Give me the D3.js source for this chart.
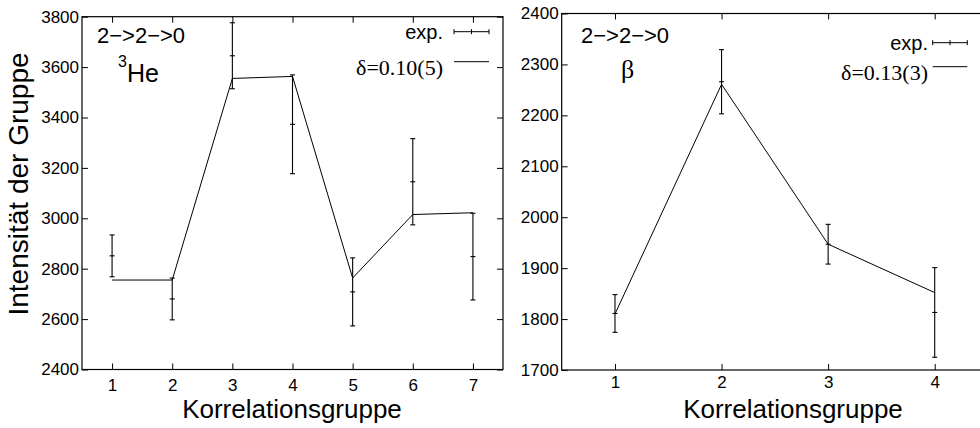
<!DOCTYPE html>
<html>
<head>
<meta charset="utf-8">
<script src="https://cdn.jsdelivr.net/npm/d3@7"></script>
<style>
  html, body { margin: 0; padding: 0; background: #fff; }
  svg { display: block; }
  text { fill: #000; }
</style>
</head>
<body>
<svg id="chart" width="980" height="428"></svg>
<script>
// ---- data ----
const groupsL = [1, 2, 3, 4, 5, 6, 7];
const expL    = [2851, 2680, 3645, 3373, 2708, 3145, 2848];
const errL    = [83, 83, 131, 196, 135, 171, 172];
const fitL    = [2755, 2755, 3555, 3563, 2763, 3015, 3022];
const yTicksL = [2400, 2600, 2800, 3000, 3200, 3400, 3600, 3800];

const groupsR = [1, 2, 3, 4];
const expR    = [1811, 2266, 1947, 1813];
const errR    = [37, 63, 39, 88];
const fitR    = [1810, 2261, 1947, 1852];
const yTicksR = [1700, 1800, 1900, 2000, 2100, 2200, 2300, 2400];

const xTitle = "Korrelationsgruppe";
const yTitle = "Intensität der Gruppe";
const transition = "2−>2−>0";
const legendExp = "exp.";
const legendFitL = "δ=0.10(5)";
const legendFitR = "δ=0.13(3)";

const SANS = "'Liberation Sans', Arial, Helvetica, sans-serif";
const SERIF = "'Liberation Serif', 'Times New Roman', serif";

const svg = d3.select("#chart");

function panel(opt) {
  const { groups, exp, err, fit, yTicks, xDomain, yDomain, x0, x1, y0, y1, xPad } = opt;
  const x = d3.scaleLinear().domain(xDomain).range([x0, x1]);
  const y = d3.scaleLinear().domain(yDomain).range([y1, y0]);
  const g = svg.append("g");
  const fontTick = "17px";

  g.append("rect")
    .attr("x", x0).attr("y", y0)
    .attr("width", x1 - x0).attr("height", y1 - y0)
    .attr("fill", "none").attr("stroke", "#000").attr("stroke-width", 1.2);

  const axL = d3.axisLeft(y).tickValues(yTicks).tickSize(-6).tickPadding(3).tickFormat(d3.format("d"));
  const axR = d3.axisRight(y).tickValues(yTicks).tickSize(-6).tickFormat("");
  const axB = d3.axisBottom(x).tickValues(groups).tickSize(-6).tickPadding(xPad).tickFormat(d3.format("d"));
  const axT = d3.axisTop(x).tickValues(groups).tickSize(-6).tickFormat("");

  function style(sel) {
    sel.select(".domain").remove();
    sel.selectAll("line").attr("stroke", "#000").attr("stroke-width", 1);
    sel.selectAll("text").attr("font-family", SANS).attr("font-size", fontTick).attr("fill", "#000");
  }
  g.append("g").attr("transform", `translate(${x0},0)`).call(axL).call(style);
  g.append("g").attr("transform", `translate(${x1},0)`).call(axR).call(style);
  g.append("g").attr("transform", `translate(0,${y1})`).call(axB).call(style);
  g.append("g").attr("transform", `translate(0,${y0})`).call(axT).call(style);

  const line = d3.line().x((d, i) => x(groups[i])).y(d => y(d));
  g.append("path").datum(fit).attr("d", line)
    .attr("fill", "none").attr("stroke", "#000").attr("stroke-width", 1);

  const eb = g.append("g").attr("stroke", "#000").attr("stroke-width", 1.1);
  groups.forEach((gr, i) => {
    const cx = x(gr);
    const top = y(exp[i] + err[i]), bot = y(exp[i] - err[i]), c = y(exp[i]);
    eb.append("line").attr("x1", cx).attr("x2", cx).attr("y1", top).attr("y2", bot);
    eb.append("line").attr("x1", cx - 2.5).attr("x2", cx + 2.5).attr("y1", top).attr("y2", top);
    eb.append("line").attr("x1", cx - 2.5).attr("x2", cx + 2.5).attr("y1", bot).attr("y2", bot);
    eb.append("line").attr("x1", cx - 2.5).attr("x2", cx + 2.5).attr("y1", c).attr("y2", c);
  });
  return { x, y, g };
}

panel({ groups: groupsL, exp: expL, err: errL, fit: fitL, yTicks: yTicksL,
  xDomain: [0.5, 7.5], yDomain: [2400, 3800], x0: 82, x1: 503, y0: 16.7, y1: 369.5, xPad: 9 });
panel({ groups: groupsR, exp: expR, err: errR, fit: fitR, yTicks: yTicksR,
  xDomain: [0.5, 4.5], yDomain: [1700, 2400], x0: 561.7, x1: 988, y0: 13.5, y1: 370, xPad: 6 });

function legend(xText, yExp, yFit, fitLabel, lx0, lx1) {
  svg.append("text").attr("x", xText).attr("y", yExp + 7).attr("text-anchor", "end")
    .attr("font-family", SANS).attr("font-size", "20px").text(legendExp);
  const lg = svg.append("g").attr("stroke", "#000").attr("stroke-width", 1);
  lg.append("line").attr("x1", lx0).attr("x2", lx1).attr("y1", yExp).attr("y2", yExp);
  [lx0, (lx0 + lx1) / 2, lx1].forEach(v =>
    lg.append("line").attr("x1", v).attr("x2", v).attr("y1", yExp - 2.5).attr("y2", yExp + 2.5));
  svg.append("text").attr("x", xText).attr("y", yFit + 13).attr("text-anchor", "end")
    .attr("font-family", SERIF).attr("font-size", "22px").text(fitLabel);
  lg.append("line").attr("x1", lx0).attr("x2", lx1).attr("y1", yFit).attr("y2", yFit);
}
legend(443, 31.7, 61.7, legendFitL, 454, 489);
legend(928, 42.7, 66.7, legendFitR, 932.7, 967.3);

svg.append("text").attr("x", 97).attr("y", 43).attr("font-family", SANS).attr("font-size", "22px").text(transition);
const he = svg.append("text").attr("x", 118).attr("y", 82).attr("font-family", SANS).attr("font-size", "25px");
he.append("tspan").attr("font-size", "16px").attr("dy", -15).text("3");
he.append("tspan").attr("dy", 15).text("He");

svg.append("text").attr("x", 581).attr("y", 43).attr("font-family", SANS).attr("font-size", "22px").text(transition);
svg.append("text").attr("x", 621).attr("y", 78).attr("font-family", SERIF).attr("font-size", "26px").text("β");

svg.append("text").attr("x", 292).attr("y", 418).attr("text-anchor", "middle")
  .attr("font-family", SANS).attr("font-size", "26px").text(xTitle);
svg.append("text").attr("x", 793).attr("y", 418).attr("text-anchor", "middle")
  .attr("font-family", SANS).attr("font-size", "26px").text(xTitle);
svg.append("text").attr("transform", "translate(28,184) rotate(-90)").attr("text-anchor", "middle")
  .attr("font-family", SANS).attr("font-size", "28px").text(yTitle);
</script>
</body>
</html>
